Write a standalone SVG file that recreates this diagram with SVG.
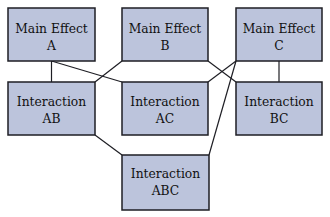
<svg xmlns="http://www.w3.org/2000/svg" width="330" height="217" viewBox="0 0 330 217">
<style>
.box{fill:#bcc4dc;stroke:#1e1e24;stroke-width:1.5}
.t{font-family:"DejaVu Serif","Liberation Serif",serif;font-size:12.3px;fill:#111;text-anchor:middle}
.c{stroke:#1e1e24;stroke-width:1.2;fill:none}
</style>
<rect width="330" height="217" fill="#fff"/>
<g id="connectors">
<line class="c" x1="51.5" y1="61" x2="51.5" y2="82"/>
<line class="c" x1="51.5" y1="61" x2="122" y2="82"/>
<line class="c" x1="122" y1="61" x2="95" y2="82"/>
<line class="c" x1="208" y1="61" x2="236" y2="82"/>
<line class="c" x1="236" y1="61" x2="208" y2="82"/>
<line class="c" x1="279" y1="61" x2="279" y2="82"/>
<line class="c" x1="236" y1="61" x2="209" y2="155"/>
<line class="c" x1="95" y1="135" x2="122" y2="155"/>
</g>
<g id="mainA"><rect class="box" x="8" y="8" width="87" height="53"/><text class="t" x="51.5" y="33">Main Effect</text><text class="t" x="51.5" y="50">A</text></g>
<g id="mainB"><rect class="box" x="122" y="8" width="86" height="53"/><text class="t" x="165" y="33">Main Effect</text><text class="t" x="165" y="50">B</text></g>
<g id="mainC"><rect class="box" x="236" y="8" width="86" height="53"/><text class="t" x="279" y="33">Main Effect</text><text class="t" x="279" y="50">C</text></g>
<g id="intAB"><rect class="box" x="8" y="82" width="87" height="53"/><text class="t" x="51.5" y="106">Interaction</text><text class="t" x="51.5" y="123">AB</text></g>
<g id="intAC"><rect class="box" x="122" y="82" width="86" height="53"/><text class="t" x="165" y="106">Interaction</text><text class="t" x="165" y="123">AC</text></g>
<g id="intBC"><rect class="box" x="236" y="82" width="86" height="53"/><text class="t" x="279" y="106">Interaction</text><text class="t" x="279" y="123">BC</text></g>
<g id="intABC"><rect class="box" x="122" y="155" width="87" height="55"/><text class="t" x="165.5" y="178">Interaction</text><text class="t" x="165.5" y="195">ABC</text></g>
</svg>
